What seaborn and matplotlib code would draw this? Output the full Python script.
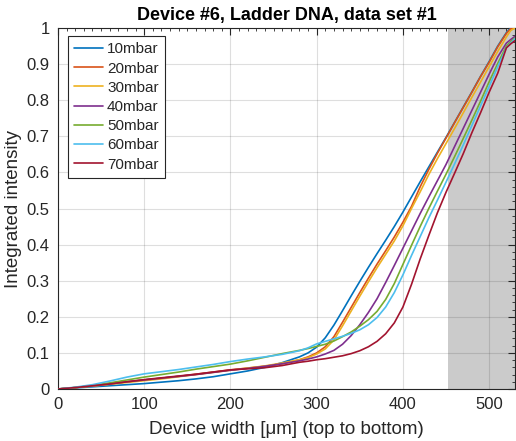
import numpy as np
import pandas as pd
import matplotlib
matplotlib.use("Agg")
import matplotlib.pyplot as plt
from matplotlib.ticker import MultipleLocator, FuncFormatter
from matplotlib.patches import Rectangle
import seaborn as sns

# Device width positions [µm]
width = [0, 20, 40, 60, 80, 100, 120, 140, 160, 180, 200, 220, 240, 260, 280,
         290, 300, 310, 320, 330, 340, 350, 360, 370, 380, 390, 400, 410, 420,
         430, 440, 450, 460, 470, 480, 490, 500, 510, 520, 525, 530]

pressures = ["10mbar", "20mbar", "30mbar", "40mbar", "50mbar", "60mbar", "70mbar"]

i_10 = [0, 0.003, 0.006, 0.009, 0.012, 0.015, 0.019, 0.023, 0.028, 0.034, 0.042,
        0.05, 0.06, 0.073, 0.089, 0.1, 0.116, 0.142, 0.177, 0.217, 0.258, 0.298,
        0.337, 0.375, 0.412, 0.45, 0.49, 0.532, 0.574, 0.615, 0.656, 0.697,
        0.739, 0.781, 0.823, 0.866, 0.907, 0.95, 0.987, 1.0, 1.0]
i_20 = [0, 0.004, 0.009, 0.014, 0.02, 0.025, 0.03, 0.035, 0.041, 0.047, 0.053,
        0.058, 0.063, 0.07, 0.081, 0.089, 0.1, 0.117, 0.145, 0.185, 0.226, 0.267,
        0.307, 0.346, 0.383, 0.421, 0.462, 0.506, 0.56, 0.608, 0.653, 0.695,
        0.738, 0.78, 0.822, 0.865, 0.905, 0.948, 0.985, 0.998, 1.0]
i_30 = [0, 0.004, 0.008, 0.013, 0.018, 0.023, 0.028, 0.034, 0.04, 0.046, 0.052,
        0.058, 0.064, 0.072, 0.081, 0.087, 0.097, 0.111, 0.136, 0.175, 0.216,
        0.257, 0.297, 0.336, 0.373, 0.41, 0.452, 0.5, 0.546, 0.594, 0.638, 0.68,
        0.722, 0.765, 0.808, 0.85, 0.893, 0.935, 0.975, 0.993, 1.0]
i_40 = [0, 0.004, 0.009, 0.014, 0.02, 0.025, 0.03, 0.035, 0.04, 0.046, 0.052,
        0.057, 0.063, 0.07, 0.078, 0.083, 0.089, 0.097, 0.107, 0.124, 0.148,
        0.178, 0.212, 0.25, 0.295, 0.342, 0.39, 0.438, 0.486, 0.532, 0.577, 0.622,
        0.672, 0.722, 0.772, 0.822, 0.872, 0.92, 0.958, 0.968, 0.977]
i_50 = [0, 0.004, 0.01, 0.017, 0.025, 0.033, 0.04, 0.047, 0.055, 0.062, 0.069,
        0.078, 0.088, 0.098, 0.107, 0.112, 0.118, 0.124, 0.133, 0.145, 0.158,
        0.174, 0.192, 0.215, 0.248, 0.292, 0.345, 0.398, 0.45, 0.5, 0.548,
        0.595, 0.644, 0.694, 0.745, 0.797, 0.851, 0.902, 0.95, 0.962, 0.972]
i_60 = [0, 0.005, 0.012, 0.022, 0.033, 0.042, 0.048, 0.054, 0.061, 0.068, 0.076,
        0.083, 0.089, 0.096, 0.106, 0.114, 0.125, 0.132, 0.139, 0.146, 0.154,
        0.164, 0.178, 0.198, 0.227, 0.267, 0.316, 0.37, 0.422, 0.474, 0.523,
        0.573, 0.624, 0.676, 0.73, 0.784, 0.838, 0.893, 0.945, 0.958, 0.97]
i_70 = [0, 0.004, 0.009, 0.014, 0.02, 0.026, 0.031, 0.036, 0.041, 0.047, 0.053,
        0.056, 0.059, 0.065, 0.074, 0.077, 0.081, 0.084, 0.088, 0.092, 0.098,
        0.106, 0.117, 0.132, 0.153, 0.183, 0.227, 0.29, 0.36, 0.425, 0.488, 0.545,
        0.598, 0.652, 0.71, 0.765, 0.822, 0.875, 0.945, 0.956, 0.965]

series = [i_10, i_20, i_30, i_40, i_50, i_60, i_70]
colors = ["#0072BD", "#D95319", "#EDB120", "#7E2F8E", "#77AC30", "#4DBEEE", "#A2142F"]

# Region of the channel highlighted in grey
shade_start, shade_end = 452, 530

df = pd.DataFrame({
    "width": np.tile(width, len(pressures)),
    "intensity": np.concatenate(series),
    "pressure": np.repeat(pressures, len(width)),
})

sns.set_style("white")
plt.rcParams["font.family"] = ["Liberation Sans", "DejaVu Sans"]
plt.rcParams["axes.edgecolor"] = "#262626"
plt.rcParams["axes.linewidth"] = 0.8

fig = plt.figure(figsize=(5.16, 4.41), dpi=100)
ax = fig.add_axes([58 / 516, 1 - 389 / 441, (515 - 58) / 516, (389 - 28) / 441])

ax.add_patch(Rectangle((shade_start, 0), shade_end - shade_start, 1,
                       facecolor="#cbcbcb", edgecolor="none", zorder=1))

sns.lineplot(data=df, x="width", y="intensity", hue="pressure",
             palette=colors, hue_order=pressures, estimator=None,
             linewidth=1.2, ax=ax, zorder=3)

ax.set_xlim(0, 530)
ax.set_ylim(0, 1)
ax.xaxis.set_major_locator(MultipleLocator(100))
ax.xaxis.set_minor_locator(MultipleLocator(10))
ax.yaxis.set_major_locator(MultipleLocator(0.1))
ax.yaxis.set_minor_locator(MultipleLocator(0.02))
ax.yaxis.set_major_formatter(FuncFormatter(lambda v, p: f"{v:g}"))

ax.set_axisbelow("line")
ax.grid(True, which="major", color="#262626", alpha=0.15, linewidth=0.8, zorder=2)

ax.tick_params(which="both", direction="in", top=True, right=True,
               color="#262626", labelcolor="#262626", labelsize=12)
ax.tick_params(which="major", length=5, width=0.8, pad=6)
ax.tick_params(which="minor", length=2.5, width=0.6)

ax.set_xlabel("Device width [μm] (top to bottom)", fontsize=13.5, color="#262626", labelpad=6)
ax.set_ylabel("Integrated intensity", fontsize=13.5, color="#262626", labelpad=3)
ax.set_title("Device #6, Ladder DNA, data set #1", fontsize=13, fontweight="bold",
             color="black", pad=6)

leg = ax.legend(loc="upper left", bbox_to_anchor=(0.022, 0.977), fontsize=11,
                frameon=True, fancybox=False, framealpha=1, edgecolor="#262626",
                handlelength=1.9, handletextpad=0.25, labelspacing=0.34,
                borderpad=0.4, borderaxespad=0)
leg.get_frame().set_linewidth(0.8)
for line in leg.get_lines():
    line.set_linewidth(1.2)

fig.savefig("out.png", dpi=100)
